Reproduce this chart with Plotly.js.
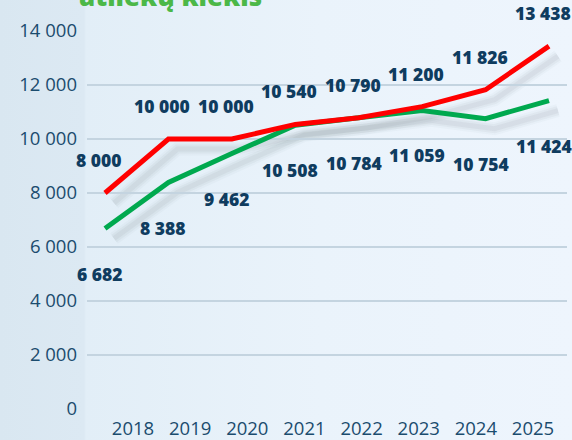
<!DOCTYPE html>
<html>
<head>
<meta charset="utf-8">
<script src="https://cdn.plot.ly/plotly-3.0.1.min.js"></script>
<style>
  html, body { margin: 0; padding: 0; }
  #wrap {
    width: 572px; height: 440px;
    background: linear-gradient(to right, #d9e7f1 0px, #dce9f3 84px, #e2eef7 86px, #eaf3fb 320px, #eef5fd 572px);
  }
</style>
</head>
<body>
<div id="wrap"><div id="chart" style="width:572px;height:440px;"></div></div>
<script>
// ---- data ----
const years = [2018, 2019, 2020, 2021, 2022, 2023, 2024, 2025];
const redValues = [8000, 10000, 10000, 10540, 10790, 11200, 11826, 13438];
const greenValues = [6682, 8388, 9462, 10508, 10784, 11059, 10754, 11424];
const yTickValues = [0, 2000, 4000, 6000, 8000, 10000, 12000, 14000];
const titleText = "atliekų kiekis";

// ---- geometry (pixels) ----
const W = 572, H = 440;
const mL = 87, mR = 5, mT = 31, mB = 31;
const plotW = W - mL - mR, plotH = H - mT - mB;
const shX = 9, shY = 10;             // shadow offset in px
const xPad = 18;                     // px from plot edge to first/last point
const pxPerYear = (plotW - 2 * xPad) / (years.length - 1);
const xr0 = years[0] - xPad / pxPerYear;
const xr1 = years[years.length - 1] + xPad / pxPerYear;
const yMax = 14000;
const pxPerUnit = plotH / yMax;

// label axis (year tick labels sit on their own spacing)
const lblFirstPx = 133 - mL, lblLastPx = 533 - mL;
const lblPxPerYear = (lblLastPx - lblFirstPx) / (years.length - 1);
const lr0 = years[0] - lblFirstPx / lblPxPerYear;
const lr1 = years[0] + (plotW - lblFirstPx) / lblPxPerYear;

const fmt = n => String(n).replace(/\B(?=(\d{3})+(?!\d))/g, ' ');

const RED = '#ff0000', GREEN = '#00a94f';
const LABEL = '#0f3c5f', TICK = '#1b4c6e';

function shadowTraces(vals) {
  const layers = [
    {w: 13, c: 'rgba(110,115,125,0.04)'},
    {w: 9, c: 'rgba(110,115,125,0.06)'},
    {w: 5, c: 'rgba(110,115,125,0.08)'}
  ];
  return layers.map(l => ({
    x: years, y: vals, xaxis: 'x', yaxis: 'y', type: 'scatter', mode: 'lines',
    line: {color: l.c, width: l.w}, hoverinfo: 'skip', showlegend: false
  }));
}

const traces = [
  ...shadowTraces(greenValues),
  ...shadowTraces(redValues),
  {x: years, y: greenValues, xaxis: 'x2', yaxis: 'y2', type: 'scatter', mode: 'lines',
   line: {color: GREEN, width: 5}, hoverinfo: 'skip', showlegend: false},
  {x: years, y: redValues, xaxis: 'x2', yaxis: 'y2', type: 'scatter', mode: 'lines',
   line: {color: RED, width: 5}, hoverinfo: 'skip', showlegend: false},
  {x: years, y: redValues, xaxis: 'x3', yaxis: 'y2', type: 'scatter', mode: 'lines',
   line: {color: 'rgba(0,0,0,0)', width: 0}, hoverinfo: 'skip', showlegend: false}
];

const LFONT = {family: 'Open Sans', size: 17.5, color: LABEL, weight: 800};
const annotations = [];
years.forEach((yr, i) => {
  annotations.push({
    x: yr, y: redValues[i], xref: 'x2', yref: 'y2', text: fmt(redValues[i]),
    showarrow: false, yanchor: 'bottom', xanchor: 'center', yshift: 19, xshift: -6,
    font: LFONT
  });
  annotations.push({
    x: yr, y: greenValues[i], xref: 'x2', yref: 'y2', text: fmt(greenValues[i]),
    showarrow: false, yanchor: 'top', xanchor: 'center', yshift: -31, xshift: -5,
    font: LFONT
  });
});
annotations.push({
  text: titleText, xref: 'paper', yref: 'paper', x: (170 - mL) / plotW, y: 1 + (mT + 4) / plotH,
  xanchor: 'center', yanchor: 'middle', showarrow: false,
  font: {family: 'Open Sans', size: 26, color: '#4cb848', weight: 800}
});

const TFONT = {family: 'Open Sans', size: 18.5, color: TICK};
const layout = {
  width: W, height: H,
  margin: {l: mL, r: mR, t: mT, b: mB},
  paper_bgcolor: 'rgba(0,0,0,0)', plot_bgcolor: 'rgba(0,0,0,0)',
  separators: ', ',
  showlegend: false,
  // shadow axes (offset right / down)
  xaxis: {domain: [shX / plotW, 1], range: [xr0, xr0 + (xr1 - xr0) * (plotW - shX) / plotW],
          visible: false, fixedrange: true},
  yaxis: {domain: [0, (plotH - shY) / plotH], range: [shY / pxPerUnit, yMax],
          visible: false, fixedrange: true},
  // real axes
  xaxis2: {domain: [0, 1], range: [xr0, xr1], anchor: 'y2', showgrid: false, zeroline: false,
           showticklabels: false, showline: false, fixedrange: true},
  yaxis2: {domain: [0, 1], range: [0, yMax], anchor: 'x2', tickvals: yTickValues, tickformat: ',d',
           showgrid: true, gridcolor: '#c4d4e0', gridwidth: 1.6, zeroline: false, showline: false,
           ticks: '', ticklabelstandoff: 9, tickfont: TFONT, fixedrange: true},
  // year label axis
  xaxis3: {overlaying: 'x2', anchor: 'y2', range: [lr0, lr1], tickvals: years, showgrid: false,
           zeroline: false, showline: false, ticks: '', ticklabelstandoff: 6,
           tickfont: TFONT, fixedrange: true},
  annotations: annotations
};

Plotly.newPlot('chart', traces, layout, {displayModeBar: false, staticPlot: true});
</script>
</body>
</html>
